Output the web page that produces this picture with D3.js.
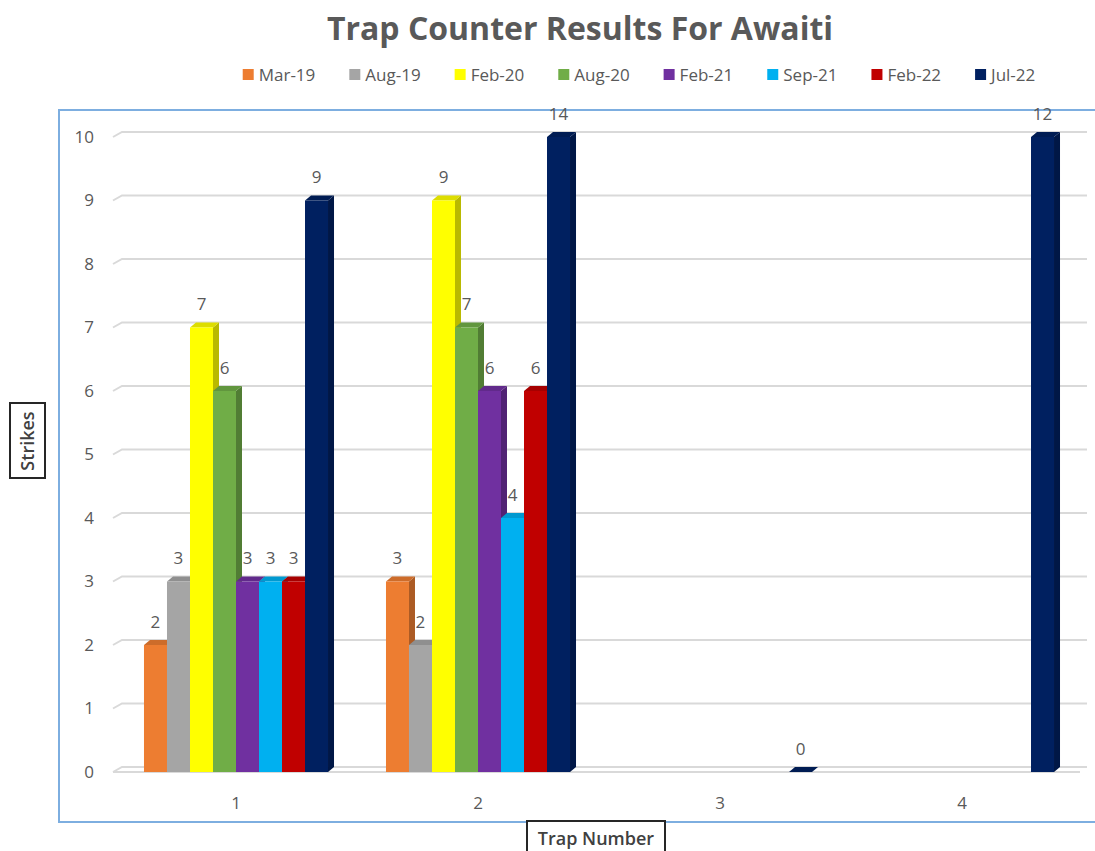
<!DOCTYPE html>
<html>
<head>
<meta charset="utf-8">
<script src="https://cdn.jsdelivr.net/npm/d3@7"></script>
<style>
  body { margin: 0; background: #fff; }
  svg { display: block; font-family: "Open Sans", "Liberation Sans", sans-serif; }
</style>
</head>
<body>
<div id="chartArea"></div>
<script>
// categories and series
const traps = ["1", "2", "3", "4"];
const seriesNames = ["Mar-19", "Aug-19", "Feb-20", "Aug-20", "Feb-21", "Sep-21", "Feb-22", "Jul-22"];
const seriesColors = ["#ED7D31", "#A5A5A5", "#FFFF00", "#70AD47", "#7030A0", "#00B0F0", "#C00000", "#002060"];

// strikes per trap, one array per survey (null = no reading)
const mar19 = [2, 3, null, null];
const aug19 = [3, 2, null, null];
const feb20 = [7, 9, null, null];
const aug20 = [6, 7, null, null];
const feb21 = [3, 6, null, null];
const sep21 = [3, 4, null, null];
const feb22 = [3, 6, null, null];
const jul22 = [9, 14, 0, 12];
const seriesValues = [mar19, aug19, feb20, aug20, feb21, sep21, feb22, jul22];

const yTicks = [0, 1, 2, 3, 4, 5, 6, 7, 8, 9, 10];

const width = 1095, height = 851;
const grey = "#595959";
const depthX = 6, depthY = 5;

const svg = d3.select("#chartArea").append("svg")
  .attr("width", width)
  .attr("height", height);

// plot frame
svg.append("rect")
  .attr("x", 59).attr("y", 110)
  .attr("width", 1060).attr("height", 712)
  .attr("fill", "none")
  .attr("stroke", "#7DAEE0")
  .attr("stroke-width", 2);

// title
svg.append("text")
  .attr("x", 580).attr("y", 40)
  .attr("text-anchor", "middle")
  .attr("font-size", 32)
  .attr("font-weight", 700)
  .attr("fill", grey)
  .text("Trap Counter Results For Awaiti");

// legend
let legend = svg.append("g");
let lx = 0;
const legendGap = 34;
seriesNames.forEach((name, i) => {
  let item = legend.append("g").attr("transform", `translate(${lx},0)`);
  item.append("rect")
    .attr("x", 0).attr("y", -6)
    .attr("width", 11).attr("height", 11)
    .attr("fill", seriesColors[i]);
  let t = item.append("text")
    .attr("x", 16).attr("y", 0)
    .attr("dy", "0.35em")
    .attr("font-size", 17)
    .attr("fill", grey)
    .text(name);
  lx += 16 + t.node().getComputedTextLength() + legendGap;
});
let legendWidth = lx - legendGap;
legend.attr("transform", `translate(${639 - legendWidth / 2},75)`);

// scales
const x0 = d3.scaleBand().domain(traps).range([115, 1083]);
const x1 = d3.scaleBand().domain(seriesNames).range([0, x0.bandwidth()]).paddingOuter(1.26);
const y = d3.scaleLinear().domain([0, 10]).range([772, 137]).clamp(true);

// back wall gridlines with the little 3D bevel on the left
let grid = svg.append("g")
  .attr("fill", "none")
  .attr("stroke", "#D9D9D9")
  .attr("stroke-width", 2);
grid.selectAll("path")
  .data(yTicks)
  .enter().append("path")
    .attr("d", d => `M113,${y(d)}L122,${y(d) - depthY}H1087`);
grid.append("path").attr("d", `M113,${y(0)}H1080`);

// y tick labels
svg.append("g")
  .selectAll("text")
  .data(yTicks)
  .enter().append("text")
    .attr("x", 94)
    .attr("y", d => y(d))
    .attr("dy", "0.35em")
    .attr("text-anchor", "end")
    .attr("font-size", 17)
    .attr("fill", grey)
    .text(d => d);

// category labels
svg.append("g")
  .selectAll("text")
  .data(traps)
  .enter().append("text")
    .attr("x", d => x0(d) + x0.bandwidth() / 2)
    .attr("y", 803)
    .attr("dy", "0.35em")
    .attr("text-anchor", "middle")
    .attr("font-size", 17)
    .attr("fill", grey)
    .text(d => d);

// 3D columns
let bars = svg.append("g");
let labels = [];
traps.forEach((trap, ti) => {
  seriesNames.forEach((name, si) => {
    let v = seriesValues[si][ti];
    if (v === null) return;
    let col = d3.color(seriesColors[si]);
    let xl = x0(trap) + x1(name);
    let xr = xl + x1.bandwidth();
    let yt = y(v), yb = y(0);
    let g = bars.append("g");
    // side face
    g.append("path")
      .attr("d", `M${xr},${yt}L${xr + depthX},${yt - depthY}L${xr + depthX},${yb - depthY}L${xr},${yb}Z`)
      .attr("fill", col.darker(0.9));
    // top face
    g.append("path")
      .attr("d", `M${xl},${yt}L${xl + depthX},${yt - depthY}L${xr + depthX},${yt - depthY}L${xr},${yt}Z`)
      .attr("fill", col.darker(0.4));
    // front face
    g.append("rect")
      .attr("x", xl).attr("y", yt)
      .attr("width", x1.bandwidth())
      .attr("height", yb - yt)
      .attr("fill", col);
    labels.push({ x: (xl + xr) / 2, y: yt - 23, v: v });
  });
});

svg.append("g")
  .selectAll("text")
  .data(labels)
  .enter().append("text")
    .attr("x", d => d.x)
    .attr("y", d => d.y)
    .attr("dy", "0.35em")
    .attr("text-anchor", "middle")
    .attr("font-size", 17)
    .attr("fill", grey)
    .text(d => d.v);

// axis titles in boxes
let yTitle = svg.append("g");
yTitle.append("rect")
  .attr("x", 10).attr("y", 403)
  .attr("width", 35).attr("height", 75)
  .attr("fill", "#fff")
  .attr("stroke", "#262626")
  .attr("stroke-width", 2);
yTitle.append("text")
  .attr("transform", "translate(28,441) rotate(-90)")
  .attr("dy", "0.35em")
  .attr("text-anchor", "middle")
  .attr("font-size", 18)
  .attr("font-weight", 600)
  .attr("fill", "#404040")
  .text("Strikes");

let xTitle = svg.append("g");
xTitle.append("rect")
  .attr("x", 527).attr("y", 821)
  .attr("width", 138).attr("height", 45)
  .attr("fill", "#fff")
  .attr("stroke", "#262626")
  .attr("stroke-width", 2);
xTitle.append("text")
  .attr("x", 596).attr("y", 839)
  .attr("dy", "0.35em")
  .attr("text-anchor", "middle")
  .attr("font-size", 18)
  .attr("font-weight", 600)
  .attr("fill", "#404040")
  .text("Trap Number");
</script>
</body>
</html>
